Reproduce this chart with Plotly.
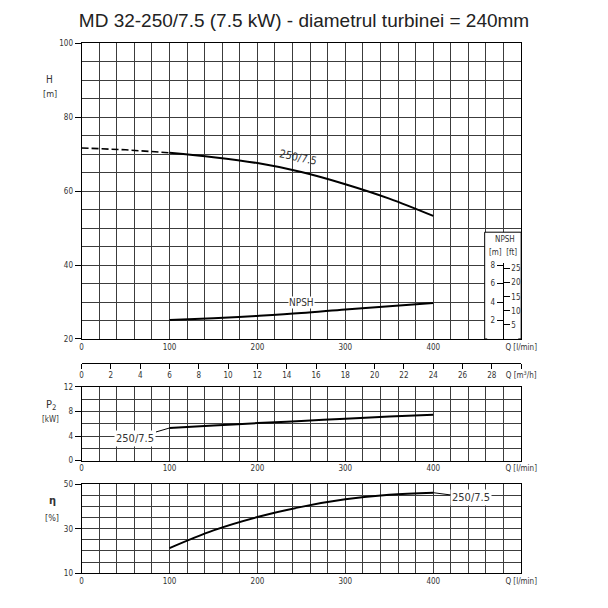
import plotly.graph_objects as go

# --- DATA ---
TITLE = "MD 32-250/7.5 (7.5 kW) - diametrul turbinei = 240mm"
CURVE_LABEL = "250/7.5"

# head H [m] vs flow Q [l/min]; dashed part is outside the working range
Q_H_DASH = [0, 50, 100]
H_DASH = [71.7, 71.2, 70.4]
Q_H = [100, 150, 200, 250, 300, 350, 400]
H = [70.4, 69.2, 67.6, 65.2, 61.9, 58.0, 53.3]

# NPSH [m]
Q_NPSH = [100, 150, 200, 250, 300, 350, 400]
NPSH = [2.05, 2.25, 2.5, 2.8, 3.2, 3.55, 3.9]

# shaft power P2 [kW]
Q_P2 = [100, 150, 200, 250, 300, 350, 400]
P2 = [5.3, 5.7, 6.1, 6.45, 6.8, 7.15, 7.45]

# efficiency eta [%]
Q_ETA = [100, 150, 200, 250, 300, 350, 400]
ETA = [21.3, 29.3, 35.3, 39.9, 43.3, 45.4, 46.3]

Q_TICKS = [0, 100, 200, 300, 400, 500]
Q_TICKTEXT = ["0", "100", "200", "300", "400", "Q [l/min]"]
M3H_TICKS = list(range(0, 31, 2))
M3H_TICKTEXT = [str(v) for v in M3H_TICKS[:-1]] + ["Q [m<sup>3</sup>/h]"]
H_TICKS = [20, 40, 60, 80, 100]
P2_TICKS = [0, 4, 8, 12]
ETA_TICKS = [10, 30, 50]
NPSH_M_TICKS = [2, 4, 6, 8]
NPSH_FT_TICKS = [5, 10, 15, 20, 25]
M_TO_FT = 3.28084

# --- LAYOUT HELPERS (window pixel -> paper; figure fills the window) ---
W = 608.0
def px(x):
    return x / W
def py(y):
    return 1 - y / W

FONT = "DejaVu Sans Condensed, Liberation Sans Narrow, Arial"
TXT = "#333333"
GRID = "#3c3c3c"
X_DOM = [px(82), px(535)]

fig = go.Figure()

line = dict(color="black", width=2)

# top chart: H + NPSH
fig.add_trace(go.Scatter(x=Q_H_DASH, y=H_DASH, mode="lines",
                         line=dict(color="black", width=1.6, dash="7px,3px"),
                         xaxis="x", yaxis="y", hoverinfo="skip"))
fig.add_trace(go.Scatter(x=Q_H, y=H, mode="lines", line_shape="spline",
                         line=line, xaxis="x", yaxis="y"))
fig.add_trace(go.Scatter(x=Q_NPSH, y=NPSH, mode="lines", line_shape="spline",
                         line=line, xaxis="x", yaxis="y8"))
# m3/h axis holder
fig.add_trace(go.Scatter(x=[0, 30], y=[None, None], xaxis="x2", yaxis="y",
                         hoverinfo="skip"))
# NPSH box axes holders
fig.add_trace(go.Scatter(x=[0, 1], y=[None, None], xaxis="x6", yaxis="y6",
                         hoverinfo="skip"))
fig.add_trace(go.Scatter(x=[0, 1], y=[None, None], xaxis="x6", yaxis="y7",
                         hoverinfo="skip"))
# P2 chart
fig.add_trace(go.Scatter(x=Q_P2, y=P2, mode="lines", line_shape="spline",
                         line=line, xaxis="x3", yaxis="y3"))
# eta chart
fig.add_trace(go.Scatter(x=Q_ETA, y=ETA, mode="lines", line_shape="spline",
                         line=line, xaxis="x4", yaxis="y4"))

tickfont = dict(family=FONT, size=8, color=TXT)

def q_axis(**kw):
    d = dict(domain=X_DOM, range=[0, 500], tickvals=Q_TICKS, ticktext=Q_TICKTEXT,
             ticks="", showgrid=True, gridcolor=GRID, gridwidth=1,
             minor=dict(tick0=0, dtick=20, showgrid=True, gridcolor=GRID, gridwidth=1, ticks=""),
             showline=True, mirror=True, linecolor="black", linewidth=1,
             zeroline=False, tickfont=tickfont, fixedrange=True)
    d.update(kw)
    return d

def val_axis(rng, ticks, minor_dtick, dom, **kw):
    d = dict(domain=dom, range=rng, tickvals=ticks, ticks="outside", ticklen=6,
             tickcolor="black", showgrid=True, gridcolor=GRID, gridwidth=1,
             minor=dict(tick0=rng[0], dtick=minor_dtick, showgrid=True, gridcolor=GRID,
                        gridwidth=1, ticks=""),
             showline=True, mirror=True, linecolor="black", linewidth=1,
             zeroline=False, tickfont=tickfont, fixedrange=True)
    d.update(kw)
    return d

fig.update_layout(
    autosize=True,
    margin=dict(l=0, r=0, t=0, b=0),
    paper_bgcolor="white", plot_bgcolor="white",
    showlegend=False,
    font=dict(family=FONT, size=8, color=TXT),
    title=dict(text=TITLE, x=0.5, xanchor="center", y=py(20), yanchor="middle",
               font=dict(family="Liberation Sans, Arial", size=19, color="#222222")),
    xaxis=q_axis(anchor="y"),
    yaxis=val_axis([20, 100], H_TICKS, 5, [py(340), py(40)], anchor="x"),
    yaxis8=dict(overlaying="y", range=[0, 32], visible=False, fixedrange=True),
    xaxis2=dict(overlaying="x", anchor="free", position=py(364), side="bottom",
                range=[0, 30], tickvals=M3H_TICKS, ticktext=M3H_TICKTEXT,
                ticks="outside", ticklen=5, tickcolor="black", showline=True,
                linecolor="black", linewidth=1, showgrid=False, zeroline=False,
                tickfont=tickfont, fixedrange=True),
    xaxis3=q_axis(anchor="y3"),
    yaxis3=val_axis([0, 12], P2_TICKS, 2, [py(463.5), py(388.5)], anchor="x3"),
    xaxis4=q_axis(anchor="y4"),
    yaxis4=val_axis([10, 50], ETA_TICKS, 5, [py(577.7), py(487.7)], anchor="x4"),
    # NPSH m / ft scale in the box
    xaxis6=dict(domain=[px(500), px(532)], range=[0, 1], visible=False, anchor="y6"),
    yaxis6=dict(domain=[py(340), py(263)], range=[0, 77 / 9.375], anchor="free",
                position=px(516), side="left", tickvals=NPSH_M_TICKS, ticks="outside",
                ticklen=6, tickcolor="black", showline=True, linecolor="black",
                linewidth=1, showgrid=False, zeroline=False, tickfont=tickfont,
                fixedrange=True),
    yaxis7=dict(overlaying="y6", range=[0, 77 / 9.375 * M_TO_FT], anchor="free",
                position=px(516), side="right", tickvals=NPSH_FT_TICKS, ticks="outside",
                ticklen=6, tickcolor="black", showline=False, showgrid=False,
                zeroline=False, tickfont=tickfont, fixedrange=True),
)

# white NPSH legend box over the grid
fig.add_shape(type="rect", xref="x", yref="y", x0=458.5, x1=500, y0=20, y1=48.9,
              layer="between", fillcolor="white", line=dict(color="black", width=1))

ann_font = dict(family=FONT, size=11, color=TXT)
fig.add_annotation(x=246, y=69.0, xref="x", yref="y", text=CURVE_LABEL,
                   showarrow=False, textangle=12, font=ann_font)
fig.add_annotation(x=250, y=3.98, xref="x", yref="y8", text="NPSH",
                   showarrow=False, font=dict(family=FONT, size=10, color=TXT),
                   bgcolor="white", borderpad=0)
fig.add_annotation(x=Q_P2[0], y=P2[0], xref="x3", yref="y3", text=CURVE_LABEL,
                   showarrow=True, arrowhead=0, arrowwidth=1, arrowcolor="black",
                   ax=-34, ay=10, font=ann_font, bgcolor="white", borderpad=1)
fig.add_annotation(x=Q_ETA[-1], y=ETA[-1], xref="x4", yref="y4", text=CURVE_LABEL,
                   showarrow=True, arrowhead=0, arrowwidth=1, arrowcolor="black",
                   ax=38, ay=5, font=ann_font, bgcolor="white", borderpad=1)

# axis names and NPSH box captions
labels = [
    ("H", 49, 77, 10, False), ("[m]", 49, 91, 9, False),
    ("P<sub>2</sub>", 50, 407, 11, False), ("[kW]", 50, 422, 8, False),
    ("η", 52, 504, 11, True), ("[%]", 52, 522, 9, False),
    ("NPSH", 518, 239, 8, False), ("[m]  [ft]", 516, 252, 8, False),
]
for text, x, y, size, bold in labels:
    fig.add_annotation(x=px(x), y=py(y), xref="paper", yref="paper",
                       xanchor="center", yanchor="middle",
                       text=f"<b>{text}</b>" if bold else text, showarrow=False,
                       font=dict(family=FONT, size=size, color=TXT))

# let the figure fill the whole window, whatever its size
fig.write_html("out.html", default_width="100vw", default_height="100vh",
               config={"displayModeBar": False, "responsive": True},
               post_script="document.body.style.margin='0';"
                           "document.body.style.overflow='hidden';"
                           "Plotly.Plots.resize(document.getElementById('{plot_id}'));")
